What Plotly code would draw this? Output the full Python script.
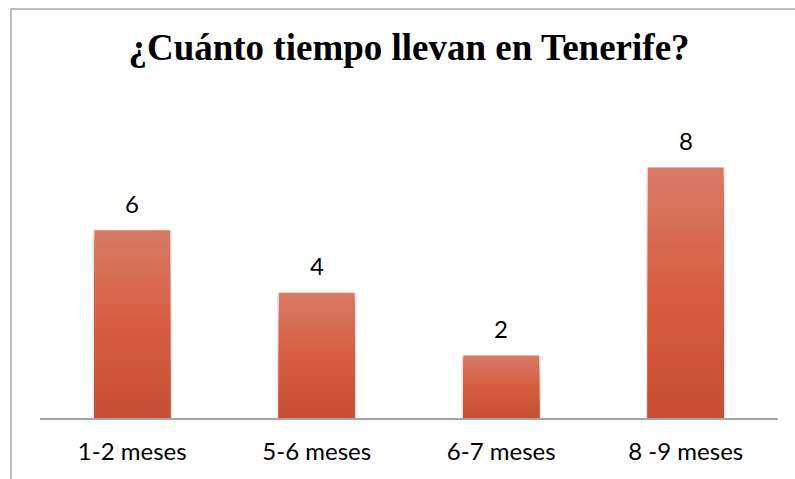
import plotly.graph_objects as go

categories = ["1-2 meses", "5-6 meses", "6-7 meses", "8 -9 meses"]
values = [6, 4, 2, 8]
title_text = "¿Cuánto tiempo llevan en Tenerife?"

# gradient stops (top, middle, bottom)
stops = [(216, 121, 102), (214, 94, 64), (199, 79, 51)]
steps = 30


def grad(t):
    if t <= 0.5:
        a, b, u = stops[0], stops[1], t / 0.5
    else:
        a, b, u = stops[1], stops[2], (t - 0.5) / 0.5
    return tuple(round(a[i] + (b[i] - a[i]) * u) for i in range(3))


W, H = 795, 479
L, T = 40, 105
R = W - 778
B = H - 418
plot_w = W - L - R
plot_h = H - T - B

fig = go.Figure()
# faint shadow
fig.add_trace(go.Bar(x=categories, y=values, width=0.43,
                     marker=dict(color="rgba(0,0,0,0.10)", line=dict(width=0)),
                     hoverinfo="skip", showlegend=False))
# gradient via overlaid bars, each drawn from the data values
for k in range(steps):
    frac = 1 - k / steps
    c = grad(k / (steps - 1))
    fig.add_trace(go.Bar(
        x=categories, y=[v * frac for v in values], width=0.41,
        marker=dict(color=f"rgb{c}", line=dict(width=0)),
        hoverinfo="skip", showlegend=False))

for cat, v in zip(categories, values):
    fig.add_annotation(x=cat, y=v, text=str(v), showarrow=False, yshift=27,
                       font=dict(family="Lato", size=24, color="#000000"))

bx = (11 - 40) / plot_w
by = (418 - 9) / plot_h
border = dict(color="#a6a6a6", width=1.5)

fig.update_layout(
    width=W, height=H,
    margin=dict(l=L, r=R, t=T, b=B),
    paper_bgcolor="white", plot_bgcolor="white",
    barmode="overlay",
    title=dict(text=f"<b>{title_text}</b>", x=0.5, xref="paper", xanchor="center",
               y=1 - 47 / H, yanchor="middle",
               font=dict(family="Liberation Serif", size=37, color="#000000")),
    xaxis=dict(showline=True, linecolor="#a6a6a6", linewidth=2, ticks="",
               showgrid=False, tickfont=dict(family="Lato", size=24, color="#000000"),
               ticklabelstandoff=11),
    yaxis=dict(range=[0, 10], visible=False, showgrid=False),
    shapes=[
        dict(type="line", xref="paper", yref="paper", x0=bx, x1=bx, y0=-0.5, y1=by,
             line=border),
        dict(type="line", xref="paper", yref="paper", x0=bx, x1=1.2, y0=by, y1=by,
             line=border),
    ],
)

fig.write_html(
    "out.html",
    config={"displayModeBar": False},
    post_script="document.body.style.margin='0';document.body.style.overflow='hidden';",
)
